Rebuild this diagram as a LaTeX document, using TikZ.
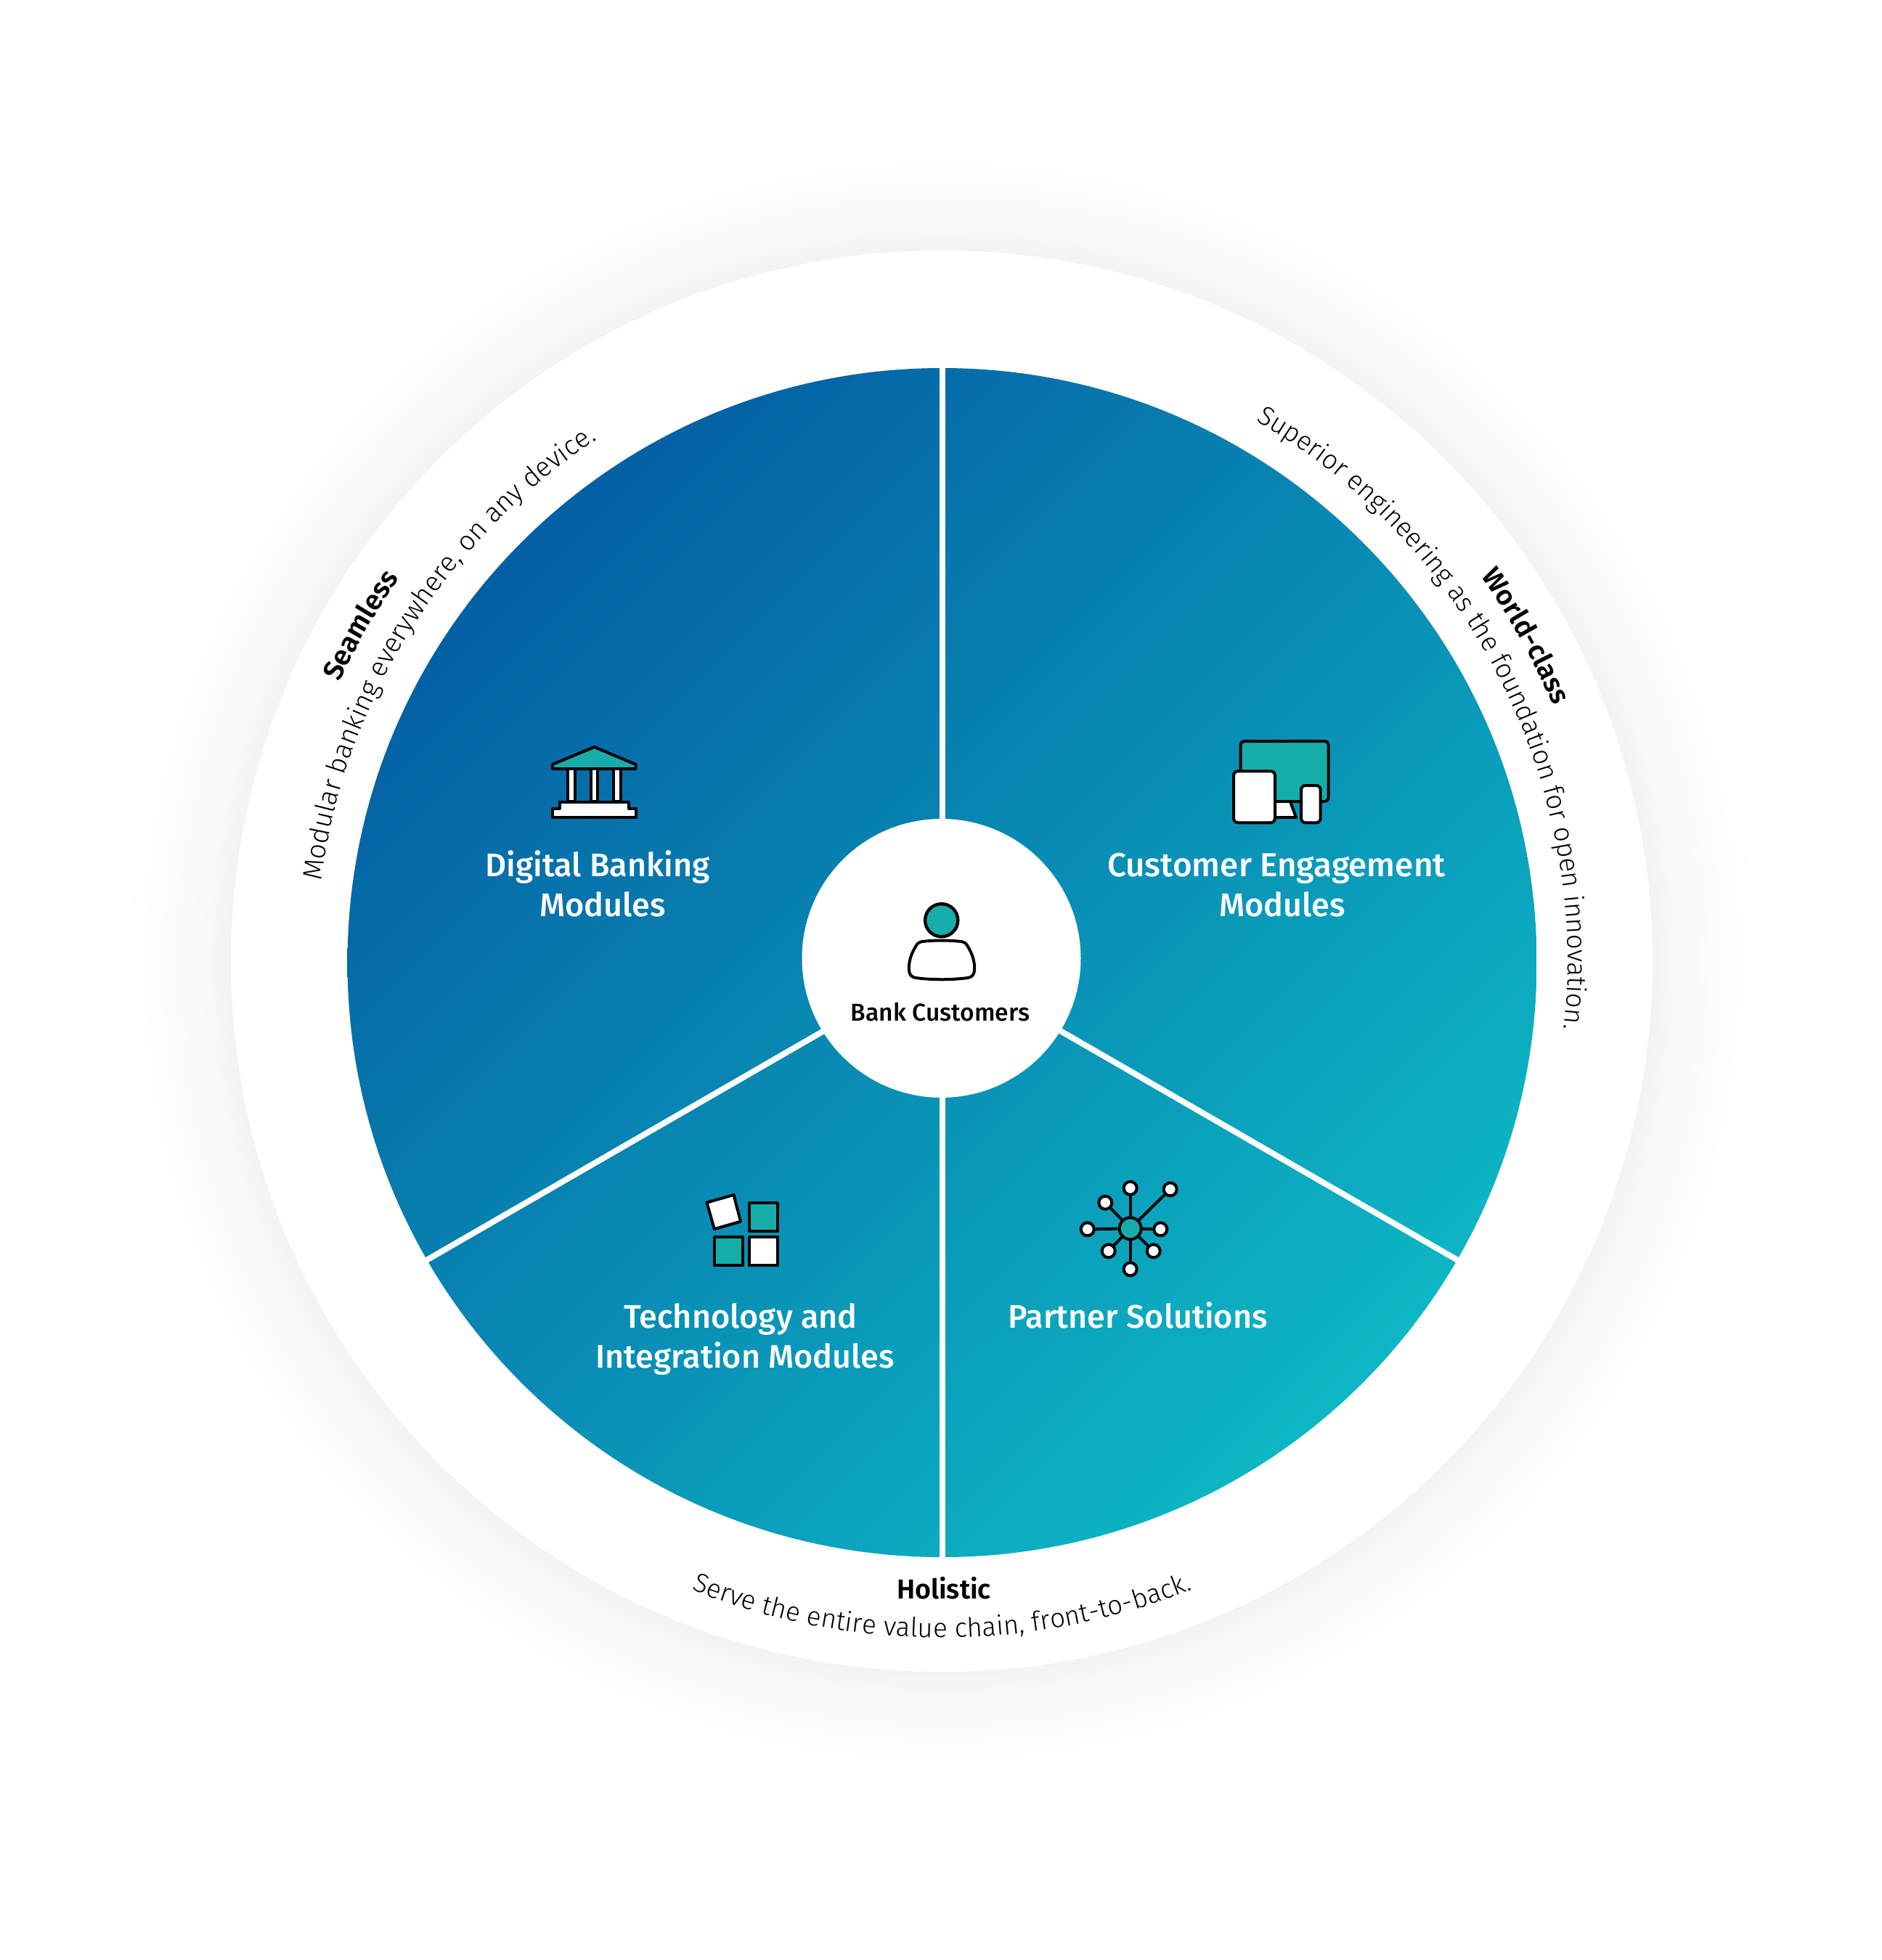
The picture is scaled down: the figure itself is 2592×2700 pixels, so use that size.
\documentclass[tikz,border=0pt]{standalone}
\usepackage{fontspec}
\setmainfont{Liberation Sans}
\newfontfamily\lightfont{Fira Sans Light}
\newfontfamily\medfont{Fira Sans Medium}
\newfontfamily\semifont{Fira Sans SemiBold}
\usetikzlibrary{decorations.text}
\definecolor{teal}{HTML}{17ADAB}
\definecolor{gradA}{HTML}{045FA4}
\definecolor{gradB}{HTML}{0DB7C4}
\definecolor{haloA}{HTML}{F3F3F3}
\definecolor{haloB}{HTML}{F8F8F8}
\definecolor{haloC}{HTML}{FCFCFC}
\pgfdeclareradialshading{halo}{\pgfpointorigin}{color(0bp)=(haloA); color(21.65bp)=(haloA); color(22.4bp)=(haloB); color(23.5bp)=(haloC); color(25bp)=(white); color(50bp)=(white)}
\tikzset{
  modlabel/.style={text=white,anchor=base,inner sep=0pt,font=\medfont\fontsize{11.25}{13}\selectfont},
  blacklabel/.style={text=black,anchor=base,inner sep=0pt,font=\medfont\fontsize{8.4}{10}\selectfont},
  boldlabel/.style={text=black,anchor=base,inner sep=0pt,font=\semifont\fontsize{9.4}{10}\selectfont},
  icon/.style={draw=black,line width=1pt,line join=round},
  iconteal/.style={icon,fill=teal},
  iconwhite/.style={icon,fill=white},
  sep/.style={draw=white,line width=2pt},
  sat/.style={circle,draw=black,line width=1pt,fill=white,minimum size=4.5pt,inner sep=0pt},
  hubnode/.style={circle,draw=black,line width=1pt,fill=teal,minimum size=7.5pt,inner sep=0pt},
  link/.style={draw=black,line width=1pt},
}
\begin{document}
\begin{tikzpicture}[x=0.25pt,y=-0.25pt]
\useasboundingbox (0,0) rectangle (2592,2700);
\fill[white] (0,0) rectangle (2592,2700);
% halo and outer disc
\shade[shading=halo] (1297,1324) circle[radius=1130];
\fill[white] (1297,1324) circle[radius=979];
% gradient disc
\begin{scope}
\clip (1297.5,1326) circle[radius=819];
\shade[top color=gradA,bottom color=gradB,shading angle=45] (478.5,507) rectangle (2116.5,2145);
\end{scope}
% separators
\coordinate (hubc) at (1297.5,1326);
\coordinate (septop) at (1297.5,480);
\coordinate (sepbot) at (1297.5,2170);
\coordinate (sepl) at (570,1746);
\coordinate (sepr) at (2025,1746);
\path[sep] (hubc) -- (septop);
\path[sep] (hubc) -- (sepbot);
\path[sep] (hubc) -- (sepl);
\path[sep] (hubc) -- (sepr);
\node[circle,fill=white,minimum size=96pt,inner sep=0pt] (centre) at (1296.5,1320) {};
% person icon
\path[iconwhite] (1270,1297) .. controls (1288,1295) and (1306,1295) .. (1324,1297) .. controls (1329,1298) and (1331,1300) .. (1333,1304) .. controls (1338,1312) and (1343,1324) .. (1342,1336) .. controls (1342,1342) and (1339,1346) .. (1333,1347) .. controls (1310,1350) and (1284,1350) .. (1261,1347) .. controls (1255,1346) and (1252,1342) .. (1252,1336) .. controls (1251,1324) and (1256,1312) .. (1261,1304) .. controls (1263,1300) and (1265,1298) .. (1270,1297) -- cycle;
\node[circle,draw=black,line width=1.1pt,fill=teal,minimum size=11.3pt,inner sep=0pt] (head) at (1296.7,1267.7) {};
\node[blacklabel] (lblcentre) at (1295,1406) {Bank Customers};
% bank icon
\path[iconteal] (818.5,1029) -- (875.5,1053) -- (875.5,1059) -- (761,1059) -- (761,1053) -- cycle;
\path[iconwhite] (782,1059) rectangle (791.5,1104);
\path[iconwhite] (813.5,1059) rectangle (823,1104);
\path[iconwhite] (845,1059) rectangle (855,1104);
\path[iconwhite] (770.5,1104.5) -- (866,1104.5) -- (866,1114) -- (875.5,1114) -- (875.5,1126) -- (761,1126) -- (761,1114) -- (770.5,1114) -- cycle;
\node[modlabel] (dba) at (823,1207) {Digital Banking};
\node[modlabel] (dbb) at (830,1262) {Modules};
% devices icon
\path[iconteal,rounded corners=1.25pt] (1708.7,1021) rectangle (1829.7,1104);
\path[iconwhite] (1750,1104) -- (1777,1104) -- (1785,1126) -- (1750,1126) -- cycle;
\path[iconwhite,rounded corners=1.5pt] (1699,1062.3) rectangle (1756,1133.3);
\path[iconwhite,rounded corners=1.5pt] (1792,1082) rectangle (1818.7,1133.3);
\node[modlabel,font=\medfont\fontsize{11.45}{13}\selectfont] (cea) at (1758,1207) {Customer Engagement};
\node[modlabel] (ceb) at (1766,1262) {Modules};
% blocks icon
\path[iconteal] (1032,1657) rectangle (1070.7,1696);
\path[iconteal] (984.3,1704.3) rectangle (1023.3,1743.3);
\path[iconwhite] (1032,1704.3) rectangle (1070.7,1743.3);
\path[iconwhite] (973.5,1656.5) -- (1010.5,1646) -- (1020,1682.7) -- (983.8,1693) -- cycle;
\node[modlabel] (tia) at (1020,1829) {Technology and};
\node[modlabel] (tib) at (1026,1884) {Integration Modules};
% network icon
\node[hubnode] (nh) at (1556.7,1692.3) {};
\node[sat] (n1) at (1556.7,1636.7) {};
\node[sat] (n2) at (1611.7,1638.3) {};
\node[sat] (n3) at (1522.3,1656.7) {};
\node[sat] (n4) at (1497.7,1693.3) {};
\node[sat] (n5) at (1598.3,1693.3) {};
\node[sat] (n6) at (1526.7,1723.3) {};
\node[sat] (n7) at (1588.7,1723.3) {};
\node[sat] (n8) at (1556.7,1748.3) {};
\foreach \k in {1,...,8} {\path[link] (nh) -- (n\k);}
\node[modlabel] (ps) at (1567,1829) {Partner Solutions};
% holistic
\node[boldlabel] (hol) at (1300,2202) {Holistic};
% curved texts
\begin{scope}[shift={(1297,1325)},x=0.25pt,y=0.25pt]
\path[decorate,decoration={text along path,text align=center,text={|\lightfont\fontsize{9.2}{10}\selectfont|Serve the entire value chain, front-to-back.}}] (235:931) arc[start angle=235,end angle=305,radius=931];
\path[decorate,decoration={text along path,text align=center,text={|\lightfont\fontsize{9.2}{10}\selectfont|Superior engineering as the foundation for open innovation.}}] (71.9:862) arc[start angle=71.9,end angle=-18.1,radius=862];
\path[decorate,decoration={text along path,text align=center,text={|\lightfont\fontsize{9.35}{10}\selectfont|Modular banking everywhere, on any device.}}] (188:862) arc[start angle=188,end angle=108,radius=862];
\path[decorate,decoration={text along path,text align=center,text={|\semifont\fontsize{9.5}{10}\selectfont|World-class}}] (44.15:913) arc[start angle=44.15,end angle=14.15,radius=913];
\path[decorate,decoration={text along path,text align=center,text={|\semifont\fontsize{9.6}{10}\selectfont|Seamless}}] (164.9:915) arc[start angle=164.9,end angle=134.9,radius=915];
\end{scope}
\end{tikzpicture}
\end{document}
